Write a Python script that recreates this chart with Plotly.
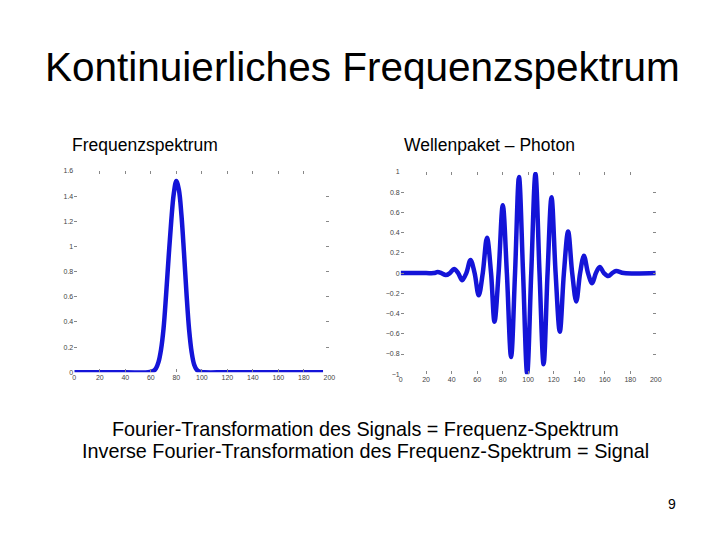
import plotly.graph_objects as go

# Left: frequency spectrum
spec_x = [0, 40, 58, 62, 64, 66, 68, 70, 72, 74, 76, 78, 80, 82, 84, 86, 88, 90, 92, 94, 96, 98, 102, 120, 195]
spec_y = [0, 0, 0, 0.01, 0.03, 0.08, 0.18, 0.35, 0.62, 0.92, 1.2, 1.42, 1.52, 1.45, 1.25, 0.95, 0.62, 0.34, 0.16, 0.06, 0.02, 0.005, 0, 0, 0]

# Right: wave packet extremes and zero crossings
wave_x = [0, 20, 26, 29, 32, 35.4, 38.6, 41.9, 45.1, 48.3, 51.5, 54.8, 58.0, 61.2, 64.4, 67.7, 70.9, 73.6, 76.8, 80.1,
          83.3, 86.6, 89.7, 92.8, 96.0, 99.2, 102.4, 105.7, 108.9, 112.1, 115.2, 118.3, 121.5, 124.8, 128.0, 131.3,
          134.5, 137.7, 140.7, 143.7, 146.9, 150.1, 153.1, 156.1, 159.4, 162.8, 165.9, 169, 175, 200]
wave_y = [0, 0, 0, 0.01, 0, -0.02, 0, 0.04, 0, -0.07, 0, 0.13, 0, -0.22, 0, 0.35, 0, -0.48, 0, 0.67,
          0, -0.83, 0, 0.95, 0, -0.99, 0, 0.98, 0, -0.9, 0, 0.75, 0, -0.58, 0, 0.41,
          0, -0.28, 0, 0.17, 0, -0.1, 0, 0.06, 0, -0.03, 0, 0.02, 0, 0]

W, H, XOFF, YOFF = 720, 540, 4, 8
def px(x): return (x - XOFF) / W
def py(y): return 1 - (y - YOFF) / H

blue = "#1414d8"
fig = go.Figure()
fig.add_trace(go.Scatter(x=spec_x, y=spec_y, mode="lines", line=dict(color=blue, width=4.5, shape="spline"),
                         xaxis="x", yaxis="y", showlegend=False))
fig.add_trace(go.Scatter(x=wave_x, y=wave_y, mode="lines", line=dict(color=blue, width=4.5, shape="spline"),
                         xaxis="x2", yaxis="y2", showlegend=False))

axstyle = dict(showgrid=False, zeroline=False, showline=False, ticks="inside", ticklen=3, tickcolor="#888",
               mirror="ticks", tickfont=dict(size=7, color="#444", family="Arial"))
fig.update_layout(
    width=W, height=H, margin=dict(l=0, r=0, t=0, b=0),
    paper_bgcolor="white", plot_bgcolor="white",
    xaxis=dict(domain=[px(69), px(327)], range=[0, 200], tickvals=list(range(0, 201, 20)), anchor="y", **axstyle),
    yaxis=dict(domain=[py(373), py(169)], range=[0, 1.6], tickvals=[0, 0.2, 0.4, 0.6, 0.8, 1, 1.2, 1.4, 1.6], anchor="x", **axstyle),
    xaxis2=dict(domain=[px(399), px(657)], range=[0, 200], tickvals=list(range(0, 201, 20)), anchor="y2", **axstyle),
    yaxis2=dict(domain=[py(375), py(170)], range=[-1, 1], tickvals=[-1, -0.8, -0.6, -0.4, -0.2, 0, 0.2, 0.4, 0.6, 0.8, 1], anchor="x2", **axstyle),
    font=dict(family="Arial"),
)
ann = [
    dict(text="Kontinuierliches Frequenzspektrum", x=360, y=64, size=40.5),
    dict(text="Frequenzspektrum", x=141, y=143, size=17.5),
    dict(text="Wellenpaket – Photon", x=489, y=143, size=17.5),
    dict(text="Fourier-Transformation des Signals = Frequenz-Spektrum", x=363, y=430, size=19.8),
    dict(text="Inverse Fourier-Transformation des Frequenz-Spektrum = Signal", x=363, y=453, size=19.8),
    dict(text="9", x=673, y=506, size=14),
]
for a in ann:
    fig.add_annotation(text=a["text"], x=px(a["x"]), y=py(a["y"]), xref="paper", yref="paper",
                       showarrow=False, xanchor="center", yanchor="middle",
                       font=dict(size=a["size"], color="black", family="Liberation Sans, Arial"))
fig.write_html("out.html")
